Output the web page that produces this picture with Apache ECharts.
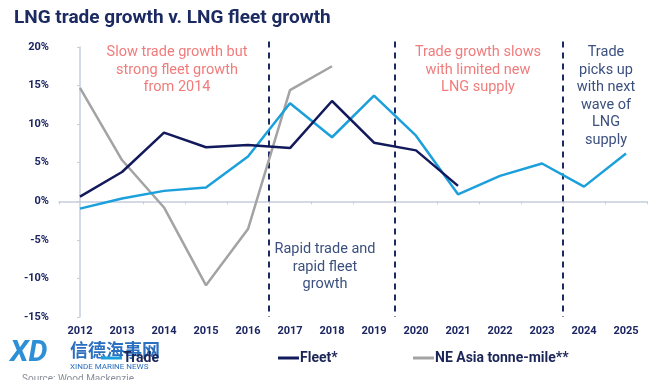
<!DOCTYPE html>
<html><head><meta charset="utf-8">
<script src="https://cdn.jsdelivr.net/npm/echarts@6/dist/echarts.min.js"></script>
<style>html,body{margin:0;padding:0;background:#fff}#c{width:670px;height:380px}</style>
</head><body><div id="c"></div>
<script>
const years = ['2012','2013','2014','2015','2016','2017','2018','2019','2020','2021','2022','2023','2024','2025'];
const trade = [-0.95, 0.35, 1.35, 1.8, 5.8, 12.7, 8.3, 13.7, 8.5, 0.9, 3.3, 4.9, 1.9, 6.2];
const fleet = [0.6, 3.8, 8.9, 7.0, 7.3, 6.9, 13.0, 7.6, 6.6, 2.0];
const neAsia = [14.7, 5.35, -0.8, -10.9, -3.6, 14.4, 17.5];
const yTicks = {min: -15, max: 20, interval: 5};
const phaseBreaks = [4.5, 7.5, 11.5];

const navy = '#1b2561';
const chart = echarts.init(document.getElementById('c'));
const txt = (x, y, lines, color) => ({
  type: 'text', x: x, y: y,
  style: {text: lines.join('\n'), fill: color, font: '14.5px Roboto', textAlign: 'center', textVerticalAlign: 'top', lineHeight: 17.5}
});
chart.setOption({
  animation: false,
  title: {text: 'LNG trade growth v. LNG fleet growth', left: 9, top: 4,
    textStyle: {fontFamily: 'Roboto', fontSize: 19, fontWeight: 'bold', color: '#1c2a62'}},
  grid: {left: 59, right: 23, top: 47, bottom: 63},
  xAxis: [
    {type: 'category', data: years, position: 'bottom',
      axisLine: {show: false, onZero: false}, axisTick: {show: false},
      axisLabel: {margin: 9, fontFamily: 'Roboto', fontWeight: 'bold', fontSize: 11, color: navy}},
    {type: 'category', data: years, position: 'top',
      axisLine: {onZero: true, lineStyle: {color: '#c5cedd', width: 1.5}},
      axisTick: {show: true, inside: true, length: 3, lineStyle: {color: '#c5cedd'}},
      axisLabel: {show: false}},
    {type: 'value', min: -0.5, max: 13.5, show: false}
  ],
  yAxis: {type: 'value', min: yTicks.min, max: yTicks.max, interval: yTicks.interval,
    axisLine: {show: true, lineStyle: {color: '#c5cedd', width: 1.5}},
    axisTick: {show: true, length: 3, lineStyle: {color: '#c5cedd'}},
    splitLine: {show: false},
    axisLabel: {formatter: '{value}%', margin: 10, fontFamily: 'Roboto', fontWeight: 'bold', fontSize: 11, color: navy}},
  legend: [
    {data: ['Trade'], left: 96, top: 346},
    {data: ['Fleet*'], left: 273, top: 346},
    {data: ['NE Asia tonne-mile**'], left: 408, top: 346}
  ].map(l => Object.assign(l, {icon: 'rect', itemWidth: 21, itemHeight: 3, itemGap: 2,
    textStyle: {fontFamily: 'Roboto', fontWeight: 'bold', fontSize: 14, color: '#1c2557', padding: [0, 0, 0, -4]}})),
  series: [
    {name: 'NE Asia tonne-mile**', type: 'line', data: neAsia, symbol: 'none', lineStyle: {width: 2.5, color: '#a3a3a3'}, itemStyle: {color: '#a3a3a3'}},
    {name: 'Trade', type: 'line', data: trade, symbol: 'none', lineStyle: {width: 2.5, color: '#1ca0dc'}, itemStyle: {color: '#1ca0dc'}},
    {name: 'Fleet*', type: 'line', data: fleet, symbol: 'none', lineStyle: {width: 2.5, color: '#121a5c'}, itemStyle: {color: '#121a5c'}},
    {type: 'custom', xAxisIndex: 2, data: phaseBreaks, silent: true, clip: false,
      encode: {x: 0},
      renderItem: (params, api) => {
        const b = api.value(0);
        const p1 = api.coord([b, 20.7]);
        const p2 = api.coord([b, -15]);
        return {type: 'line', shape: {x1: p1[0], y1: p1[1], x2: p2[0], y2: p2[1]},
          style: {stroke: '#1e2b62', lineWidth: 2, lineDash: [6, 5]}};
      }}
  ],
  graphic: [
    txt(177, 44, ['Slow trade growth but', 'strong fleet growth', 'from 2014'], '#f07c7c'),
    txt(325, 241, ['Rapid trade and', 'rapid fleet', 'growth'], '#3b507f'),
    txt(478, 44, ['Trade growth slows', 'with limited new', 'LNG supply'], '#f07c7c'),
    txt(606, 44, ['Trade', 'picks up', 'with next', 'wave of', 'LNG', 'supply'], '#3b507f'),
    {type: 'text', left: 10, top: 338, style: {text: 'XD', fill: '#2d8fd5', font: 'italic bold 30px Roboto'}},
    {type: 'text', left: 70, top: 341, style: {text: '信德海事网', fill: '#2a6fc0', font: 'bold 18px "Noto Sans CJK SC"'}},
    {type: 'text', left: 70, top: 363, style: {text: 'XINDE MARINE NEWS', fill: '#2a6fc0', font: '8px Roboto'}},
    {type: 'text', left: 22, top: 374, style: {text: 'Source: Wood Mackenzie', fill: '#8a8f9a', font: '10px Roboto'}}
  ]
});
</script></body></html>
